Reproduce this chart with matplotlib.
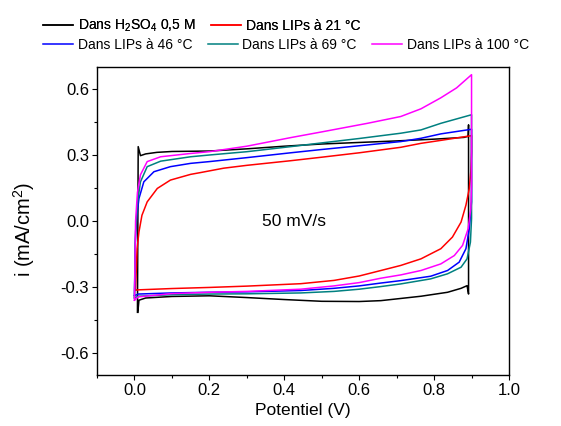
import matplotlib
matplotlib.use('Agg')
import matplotlib.pyplot as plt
from matplotlib.ticker import MultipleLocator

plt.rcParams['font.family'] = ['Liberation Sans', 'DejaVu Sans']
plt.rcParams['mathtext.fontset'] = 'custom'
plt.rcParams['mathtext.rm'] = 'Liberation Sans'
plt.rcParams['mathtext.it'] = 'Liberation Sans:italic'

# Voltammogrammes cycliques (E en V, i en mA/cm2)
# branche aller (anodique) puis branche retour (cathodique)
E_h2so4_aller = [0.008, 0.010, 0.016, 0.03, 0.06, 0.10, 0.20, 0.30, 0.40, 0.50, 0.60, 0.70, 0.80, 0.88, 0.891, 0.892]
i_h2so4_aller = [-0.415, 0.338, 0.297, 0.305, 0.312, 0.316, 0.318, 0.328, 0.340, 0.350, 0.357, 0.364, 0.372, 0.380, 0.385, 0.437]
E_h2so4_retour = [0.892, 0.888, 0.872, 0.836, 0.765, 0.658, 0.60, 0.50, 0.40, 0.30, 0.20, 0.10, 0.03, 0.012, 0.009]
i_h2so4_retour = [-0.332, -0.294, -0.306, -0.324, -0.342, -0.362, -0.366, -0.365, -0.357, -0.348, -0.340, -0.343, -0.350, -0.360, -0.415]

E_21_aller = [0.003, 0.005, 0.007, 0.012, 0.02, 0.034, 0.061, 0.096, 0.15, 0.176, 0.238, 0.30, 0.417, 0.50, 0.60, 0.711, 0.765, 0.82, 0.90]
i_21_aller = [-0.31, -0.22, -0.126, -0.05, 0.026, 0.087, 0.148, 0.186, 0.212, 0.22, 0.24, 0.253, 0.274, 0.29, 0.31, 0.335, 0.353, 0.367, 0.388]
E_21_retour = [0.90, 0.90, 0.898, 0.894, 0.885, 0.872, 0.849, 0.818, 0.765, 0.711, 0.658, 0.60, 0.533, 0.444, 0.30, 0.20, 0.10, 0.01, 0.003]
i_21_retour = [0.388, 0.315, 0.224, 0.148, 0.072, -0.005, -0.073, -0.126, -0.172, -0.202, -0.225, -0.25, -0.27, -0.285, -0.296, -0.302, -0.307, -0.313, -0.315]

E_46_aller = [0.0, 0.002, 0.006, 0.012, 0.025, 0.052, 0.096, 0.15, 0.20, 0.30, 0.417, 0.50, 0.60, 0.711, 0.765, 0.818, 0.90]
i_46_aller = [-0.34, -0.10, 0.02, 0.102, 0.178, 0.224, 0.247, 0.262, 0.27, 0.288, 0.31, 0.325, 0.342, 0.361, 0.376, 0.396, 0.417]
E_46_retour = [0.90, 0.90, 0.894, 0.885, 0.867, 0.836, 0.791, 0.711, 0.658, 0.60, 0.533, 0.444, 0.30, 0.20, 0.10, 0.01, 0.0]
i_46_retour = [0.417, 0.087, -0.035, -0.126, -0.187, -0.225, -0.251, -0.271, -0.282, -0.295, -0.306, -0.316, -0.322, -0.324, -0.327, -0.332, -0.34]

E_69_aller = [0.0, 0.003, 0.008, 0.016, 0.034, 0.07, 0.15, 0.20, 0.30, 0.417, 0.50, 0.60, 0.711, 0.765, 0.818, 0.90]
i_69_aller = [-0.35, -0.05, 0.08, 0.178, 0.247, 0.272, 0.292, 0.30, 0.315, 0.338, 0.355, 0.375, 0.399, 0.414, 0.444, 0.483]
E_69_retour = [0.90, 0.90, 0.897, 0.888, 0.872, 0.836, 0.791, 0.711, 0.658, 0.60, 0.533, 0.444, 0.30, 0.20, 0.10, 0.01, 0.0]
i_69_retour = [0.483, 0.011, -0.096, -0.172, -0.21, -0.24, -0.263, -0.286, -0.298, -0.31, -0.32, -0.327, -0.331, -0.332, -0.335, -0.342, -0.35]

E_100_aller = [0.0, 0.003, 0.008, 0.016, 0.034, 0.07, 0.15, 0.20, 0.30, 0.417, 0.50, 0.622, 0.711, 0.765, 0.818, 0.86, 0.90]
i_100_aller = [-0.36, 0.0, 0.13, 0.21, 0.27, 0.292, 0.307, 0.315, 0.34, 0.379, 0.405, 0.444, 0.475, 0.51, 0.56, 0.605, 0.665]
E_100_retour = [0.90, 0.90, 0.898, 0.891, 0.876, 0.854, 0.818, 0.765, 0.711, 0.658, 0.60, 0.533, 0.444, 0.30, 0.20, 0.10, 0.01, 0.0]
i_100_retour = [0.665, 0.163, 0.056, -0.035, -0.111, -0.157, -0.195, -0.225, -0.245, -0.26, -0.28, -0.295, -0.31, -0.32, -0.324, -0.33, -0.345, -0.36]

series = [
    ('Dans H$_2$SO$_4$ 0,5 M', 'black', E_h2so4_aller + E_h2so4_retour, i_h2so4_aller + i_h2so4_retour),
    ('Dans LIPs à 21 °C', '#ff0000', E_21_aller + E_21_retour, i_21_aller + i_21_retour),
    ('Dans LIPs à 46 °C', '#0000ff', E_46_aller + E_46_retour, i_46_aller + i_46_retour),
    ('Dans LIPs à 69 °C', '#008080', E_69_aller + E_69_retour, i_69_aller + i_69_retour),
    ('Dans LIPs à 100 °C', '#ff00ff', E_100_aller + E_100_retour, i_100_aller + i_100_retour),
]

fig = plt.figure(figsize=(5.61, 4.26), dpi=100)
ax = fig.add_axes([97/561, 1 - 375/426, 412/561, 308/426])

lignes = []
for nom, couleur, E, i in series:
    l, = ax.plot(E, i, color=couleur, lw=1.1, label=nom)
    lignes.append(l)

ax.set_xlim(-0.1, 1.0)
ax.set_ylim(-0.7, 0.7)
ax.xaxis.set_major_locator(MultipleLocator(0.2))
ax.xaxis.set_minor_locator(MultipleLocator(0.1))
ax.yaxis.set_major_locator(MultipleLocator(0.3))
ax.yaxis.set_minor_locator(MultipleLocator(0.15))
ax.xaxis.set_major_formatter(plt.FuncFormatter(lambda v, p: f'{v:.1f}'))
ax.yaxis.set_major_formatter(plt.FuncFormatter(lambda v, p: f'{v:.1f}'))
ax.tick_params(which='both', direction='out', labelsize=12, top=False, right=False)
ax.tick_params(which='major', length=3.6, width=0.8, pad=2)
ax.tick_params(which='minor', length=2.2, width=0.8)
for s in ax.spines.values():
    s.set_linewidth(1.0)

ax.set_xlabel('Potentiel (V)', fontsize=12.5, labelpad=3.5)
ax.set_ylabel('i (mA/cm$^2$)', fontsize=14.5)
ax.yaxis.set_label_coords(-0.145, 0.474)
ax.text(0.34, 0.0, '50 mV/s', fontsize=12.5, va='center')

leg1 = fig.legend(lignes[:2], [s[0] for s in series[:2]], loc='upper left',
                  bbox_to_anchor=(43/561, 1 - 18/426), ncol=2, frameon=False,
                  fontsize=10, handlelength=2.16, handletextpad=0.36,
                  columnspacing=1.08, borderpad=0, borderaxespad=0)
leg2 = fig.legend(lignes[2:], [s[0] for s in series[2:]], loc='upper left',
                  bbox_to_anchor=(43/561, 1 - 38/426), ncol=3, frameon=False,
                  fontsize=10, handlelength=2.16, handletextpad=0.36,
                  columnspacing=1.08, borderpad=0, borderaxespad=0)
fig.add_artist(leg1)

fig.savefig('out.png', dpi=100)
